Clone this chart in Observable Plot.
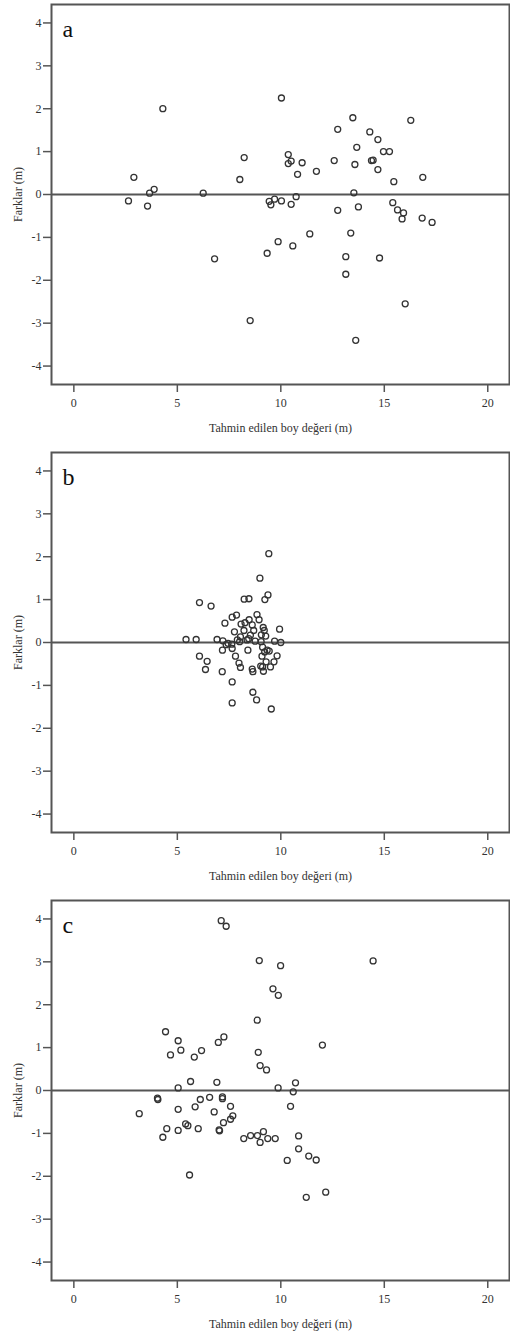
<!DOCTYPE html>
<html><head><meta charset="utf-8">
<script src="https://cdn.jsdelivr.net/npm/d3@7"></script>
<script src="https://cdn.jsdelivr.net/npm/@observablehq/plot@0.6"></script>
<style>body{margin:0;background:#fff} svg{display:block}</style>
</head><body><div id="chart"></div>
<script>
const panelLabels = ["a", "b", "c"];
const xLabel = "Tahmin edilen boy değeri (m)";
const yLabel = "Farklar (m)";
const xTicks = [0, 5, 10, 15, 20];
const yTicks = [-4, -3, -2, -1, 0, 1, 2, 3, 4];

const aX = [2.90,3.66,3.88,4.30,6.25,8.02,8.23,10.03,10.36,10.36,10.50,10.81,11.03,11.72,12.58,12.75,13.48,13.58,13.67,14.30,14.38,14.46,14.69,14.69,14.96,15.25,15.46,16.28,16.86,13.53,
  2.64,3.56,6.80,8.52,9.34,9.44,9.52,9.70,9.87,10.03,10.50,10.58,10.74,11.40,12.75,13.14,13.14,13.38,13.62,13.75,14.77,15.41,15.64,15.86,15.93,16.01,16.83,17.31];
const aY = [0.40,0.03,0.12,2.00,0.03,0.35,0.86,2.25,0.93,0.72,0.78,0.47,0.74,0.54,0.79,1.52,1.79,0.70,1.10,1.46,0.79,0.80,1.28,0.58,1.00,1.00,0.30,1.73,0.40,0.04,
  -0.15,-0.27,-1.50,-2.94,-1.37,-0.16,-0.24,-0.11,-1.10,-0.15,-0.23,-1.20,-0.05,-0.92,-0.37,-1.45,-1.86,-0.90,-3.40,-0.29,-1.48,-0.19,-0.36,-0.57,-0.43,-2.55,-0.55,-0.65];

const bX = [5.42,5.91,6.07,6.63,6.92,7.20,7.30,7.65,7.86,8.23,8.46,8.99,9.42,9.38,9.23,8.85,8.95,8.47,8.27,8.08,
  8.62,9.15,9.94,7.76,8.22,8.69,9.20,9.27,8.53,8.05,7.90,8.37,8.76,9.70,10.00,9.05,7.63,7.36,7.18,7.65,
  8.41,9.12,9.22,9.44,6.07,6.44,6.36,7.17,7.81,7.98,8.05,7.65,7.65,8.62,8.65,8.65,8.83,9.09,9.03,9.16,
  9.29,9.50,9.67,9.82,9.54,9.34,9.12,8.01,8.45,9.06,7.45];
const bY = [0.07,0.07,0.93,0.85,0.07,0.04,0.45,0.59,0.64,1.01,1.02,1.50,2.07,1.11,1.00,0.65,0.53,0.53,0.46,0.43,
  0.41,0.35,0.31,0.25,0.28,0.28,0.28,0.15,0.17,0.13,0.06,0.06,0.03,0.03,0.00,0.02,-0.04,-0.05,-0.18,-0.14,
  -0.18,-0.11,-0.22,-0.20,-0.32,-0.44,-0.63,-0.68,-0.32,-0.48,-0.58,-0.92,-1.41,-0.62,-0.68,-1.16,-1.34,-0.32,-0.55,-0.67,
  -0.45,-0.57,-0.45,-0.31,-1.55,-0.18,-0.57,0.02,0.09,0.18,-0.02];

const cX = [7.12,7.36,8.96,9.99,14.46,9.62,9.88,8.86,4.43,5.04,5.17,4.67,5.82,6.17,6.98,7.25,8.91,12.01,9.00,9.31,
  3.16,4.04,4.06,4.30,4.49,5.04,5.04,5.04,5.40,5.51,5.59,5.64,5.86,6.01,6.11,6.56,6.78,6.91,7.02,7.04,
  7.18,7.18,7.23,7.57,7.57,7.68,8.21,8.54,8.87,9.00,9.16,9.37,9.73,9.87,10.31,10.47,10.60,10.71,10.86,10.86,
  11.23,11.35,11.71,12.17];
const cY = [3.96,3.83,3.03,2.91,3.02,2.37,2.22,1.64,1.37,1.16,0.94,0.83,0.78,0.93,1.12,1.25,0.89,1.06,0.58,0.48,
  -0.54,-0.18,-0.21,-1.09,-0.89,0.06,-0.44,-0.93,-0.78,-0.82,-1.97,0.21,-0.38,-0.89,-0.21,-0.16,-0.50,0.19,-0.92,-0.94,
  -0.15,-0.19,-0.75,-0.37,-0.67,-0.59,-1.12,-1.05,-1.05,-1.21,-0.96,-1.12,-1.12,0.06,-1.63,-0.37,-0.03,0.18,-1.06,-1.36,
  -2.49,-1.53,-1.62,-2.37];

const FONT = "'Liberation Serif', 'Times New Roman', Times, serif";

function panel(label, xs, ys, height, marginBottom) {
  const data = xs.map((x, i) => ({x, y: ys[i]}));
  return Plot.plot({
    width: 510, height,
    marginTop: 4, marginLeft: 51, marginRight: 1, marginBottom,
    style: {fontFamily: FONT, fontSize: "12px", color: "#333", background: "#fff"},
    x: {domain: [-1.08, 21.05]},
    y: {domain: [-4.43, 4.43]},
    marks: [
      Plot.axisX({ticks: xTicks, tickSize: 8, tickPadding: 6, tickFormat: d => String(d),
        label: null, stroke: "#555", strokeWidth: 1.5}),
      Plot.axisY({ticks: yTicks, tickSize: 8, tickPadding: 2, tickFormat: d => String(d),
        label: null, stroke: "#555", strokeWidth: 1.5}),
      Plot.text([xLabel], {frameAnchor: "bottom", text: d => d, dy: 44, lineAnchor: "middle",
        textAnchor: "middle", fontSize: 12, fill: "#333"}),
      Plot.text([yLabel], {frameAnchor: "left", text: d => d, dx: -33, rotate: -90, lineAnchor: "middle",
        textAnchor: "middle", fontSize: 12, fill: "#333"}),
      Plot.ruleY([0], {stroke: "#555", strokeWidth: 2}),
      Plot.dot(data, {x: "x", y: "y", r: 3, stroke: "#333", strokeWidth: 1.3, fill: "none"}),
      Plot.text([label], {frameAnchor: "top-left", text: d => d, dx: 11, dy: 15,
        lineAnchor: "top", textAnchor: "start", fontSize: 24, fill: "#111"}),
      Plot.frame({stroke: "#555", strokeWidth: 2})
    ]
  });
}

const root = document.getElementById("chart");
root.append(panel(panelLabels[0], aX, aY, 448, 64));
root.append(panel(panelLabels[1], bX, bY, 448, 64));
root.append(panel(panelLabels[2], cX, cY, 442, 58));
</script>
</body></html>
